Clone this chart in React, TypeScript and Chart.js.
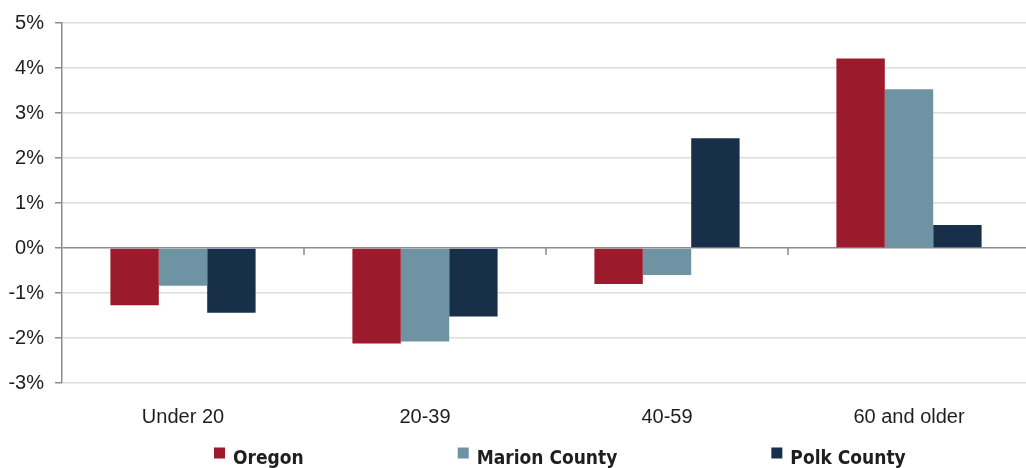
import React, { useEffect, useRef } from "react";
import { Chart, registerables } from "chart.js";

Chart.register(...registerables);

const categories = ["Under 20", "20-39", "40-59", "60 and older"];
const oregonValues = [-1.27, -2.12, -0.8, 4.21];
const marionValues = [-0.84, -2.08, -0.6, 3.53];
const polkValues = [-1.44, -1.52, 2.44, 0.51];
const seriesNames = ["Oregon", "Marion County", "Polk County"];
const seriesColors = ["#9b1a2b", "#6e93a3", "#172f48"];
const yMin = -3;
const yMax = 5;
const yStep = 1;

const axisGray = "#8c8c8c";
const gridGray = "#dcdcdc";
const textColor = "#1e1e1e";

const zeroTickPlugin = {
  id: "zeroTicks",
  afterDatasetsDraw(chart: any) {
    const { ctx, scales } = chart;
    const x = scales.x;
    const y = scales.y;
    const y0 = y.getPixelForValue(0);
    ctx.save();
    ctx.strokeStyle = axisGray;
    ctx.lineWidth = 1.5;
    for (let i = 0; i < categories.length - 1; i++) {
      const bx = (x.getPixelForValue(i) + x.getPixelForValue(i + 1)) / 2;
      ctx.beginPath();
      ctx.moveTo(bx, y0);
      ctx.lineTo(bx, y0 + 7);
      ctx.stroke();
    }
    ctx.restore();
  },
};

const legendPlugin = {
  id: "customLegend",
  afterDraw(chart: any) {
    const ctx = chart.ctx;
    ctx.save();
    ctx.font = 'bold 19px "DejaVu Sans Condensed", "DejaVu Sans", sans-serif';
    ctx.textBaseline = "alphabetic";
    ctx.textAlign = "left";
    let x = 214;
    const baseline = 464;
    chart.data.datasets.forEach((ds: any) => {
      ctx.fillStyle = ds.backgroundColor;
      ctx.fillRect(x, 447.5, 11, 11);
      ctx.fillStyle = textColor;
      ctx.fillText(ds.label, x + 19, baseline);
      x += 19 + ctx.measureText(ds.label).width + 154;
    });
    ctx.restore();
  },
};

export default function App() {
  const ref = useRef<HTMLCanvasElement | null>(null);

  useEffect(() => {
    if (!ref.current) return;
    const seriesValues = [oregonValues, marionValues, polkValues];
    const chart = new Chart(ref.current, {
      type: "bar",
      data: {
        labels: categories,
        datasets: seriesNames.map((name, i) => ({
          label: name,
          data: seriesValues[i],
          backgroundColor: seriesColors[i],
          borderWidth: 0,
          categoryPercentage: 0.6,
          barPercentage: 1,
        })),
      },
      options: {
        animation: false,
        responsive: true,
        maintainAspectRatio: false,
        layout: { padding: { top: 22, right: 0, left: 0, bottom: 0 } },
        font: { family: '"Liberation Sans", Arial, sans-serif', size: 20 },
        plugins: {
          legend: { display: false },
          tooltip: { enabled: false },
        },
        scales: {
          x: {
            grid: { display: false },
            border: { display: false },
            ticks: {
              color: textColor,
              padding: 14,
              maxRotation: 0,
              font: { family: '"Liberation Sans", Arial, sans-serif', size: 20 },
            },
            afterFit(scale: any) {
              scale.height = 85;
            },
          },
          y: {
            min: yMin,
            max: yMax,
            ticks: {
              stepSize: yStep,
              color: textColor,
              padding: 11,
              font: { family: '"Liberation Sans", Arial, sans-serif', size: 20 },
              callback: (v: any) => `${v}%`,
            },
            grid: {
              color: (c: any) => (c.tick && c.tick.value === 0 ? axisGray : gridGray),
              lineWidth: 1.5,
              tickLength: 7,
              tickColor: axisGray,
              tickWidth: 1.5,
            },
            border: { color: axisGray, width: 1.5 },
            afterFit(scale: any) {
              scale.width = 62;
            },
          },
        },
      },
      plugins: [zeroTickPlugin, legendPlugin],
    });
    return () => chart.destroy();
  }, []);

  return (
    <div style={{ position: "absolute", left: 0, top: 0, width: 1026, height: 468, background: "#fff", overflow: "hidden" }}>
      <div style={{ position: "relative", width: 1030, height: 468 }}>
        <canvas ref={ref} />
      </div>
    </div>
  );
}
